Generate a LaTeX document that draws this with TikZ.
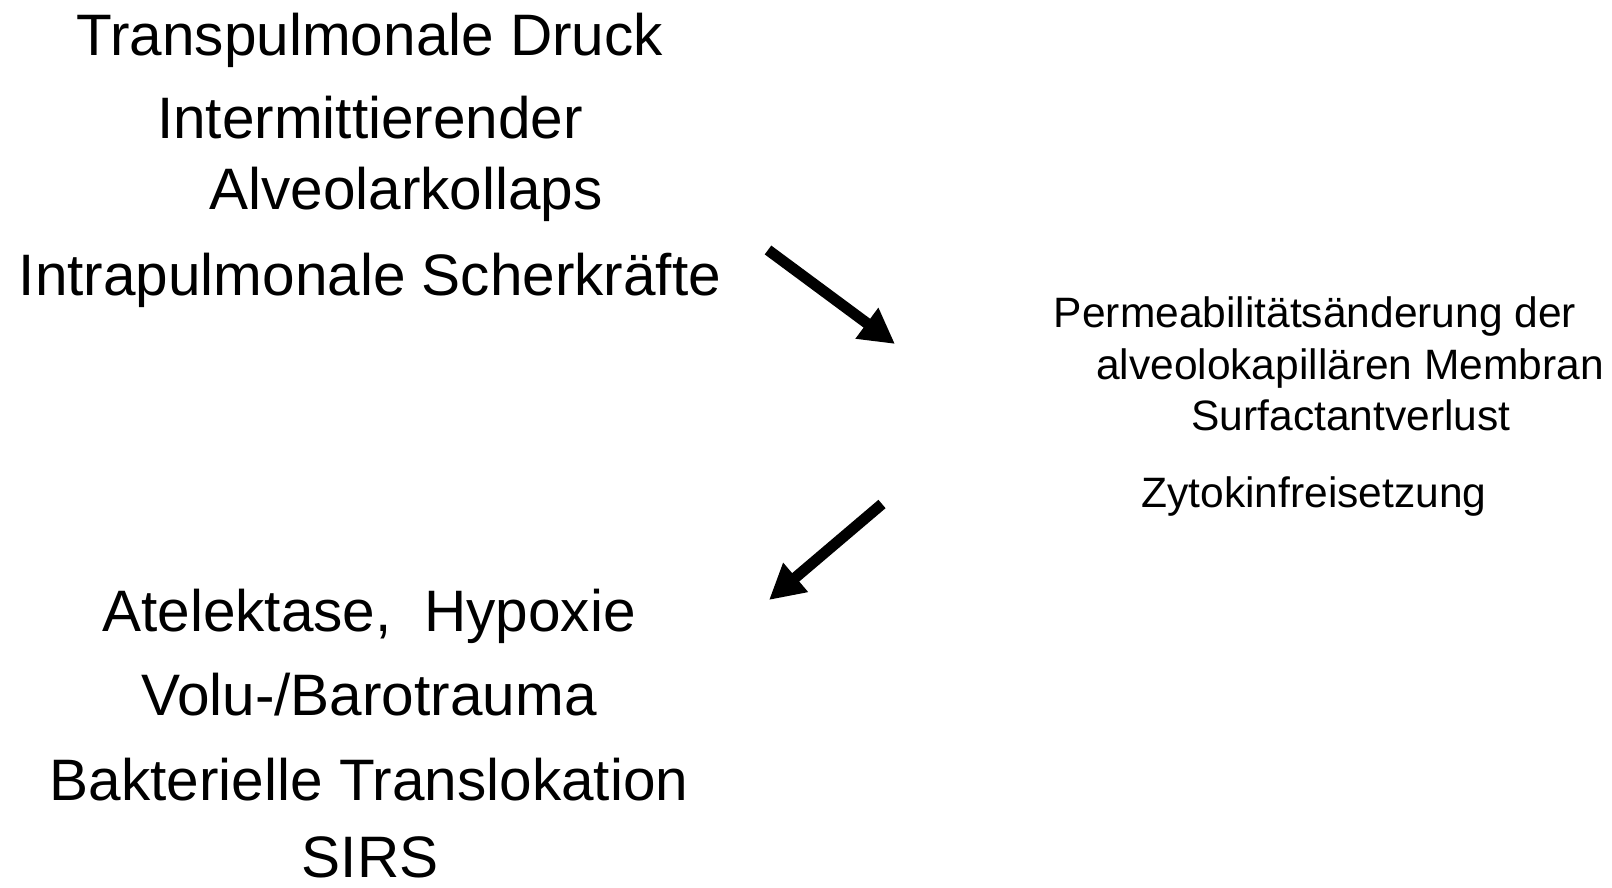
\documentclass[tikz,border=0pt]{standalone}
\usepackage{fontspec}
\setmainfont{Liberation Sans}
\usetikzlibrary{arrows.meta}

\begin{document}
\begin{tikzpicture}
    [
      x=0.5pt, y=-0.5pt,
      % Stil für große Texte
      gross/.style={anchor=base, inner sep=0pt, font=\fontsize{29.25}{35}\selectfont},
      % Stil für kleine Texte
      klein/.style={anchor=base, inner sep=0pt, font=\fontsize{21.25}{25.5}\selectfont},
      % Stil für Pfeile
      pfeil/.style={line width=5.5pt, -{Triangle[length=17.5pt, width=18pt]}}
    ]
    \useasboundingbox (0,0) rectangle (1612,888);
    % Knoten links oben
    \node[gross] (druck) at (370,56) {Transpulmonale Druck};
    \node[gross] (interm) at (370,139) {Intermittierender};
    \node[gross] (kollaps) at (406,209) {Alveolarkollaps};
    \node[gross] (scher) at (370,295) {Intrapulmonale Scherkräfte};
    % Knoten rechts
    \node[klein] (perm) at (1315,327) {Permeabilitätsänderung der};
    \node[klein] (membran) at (1350,379) {alveolokapillären Membran};
    \node[klein] (surf) at (1351,430) {Surfactantverlust};
    \node[klein] (zyto) at (1314,507) {Zytokinfreisetzung};
    % Knoten links unten
    \node[gross] (atel) at (369,631) {Atelektase,~ Hypoxie};
    \node[gross] (volu) at (369,715) {Volu-/Barotrauma};
    \node[gross] (bakt) at (369,800) {Bakterielle Translokation};
    \node[gross] (sirs) at (370,877) {SIRS};
    % Pfeile
    \coordinate (p1a) at (768,250);
    \coordinate (p1b) at (895,344);
    \coordinate (p2a) at (882,504);
    \coordinate (p2b) at (769,600);
    \draw[pfeil] (p1a) -- (p1b);
    \draw[pfeil] (p2a) -- (p2b);
\end{tikzpicture}
\end{document}
